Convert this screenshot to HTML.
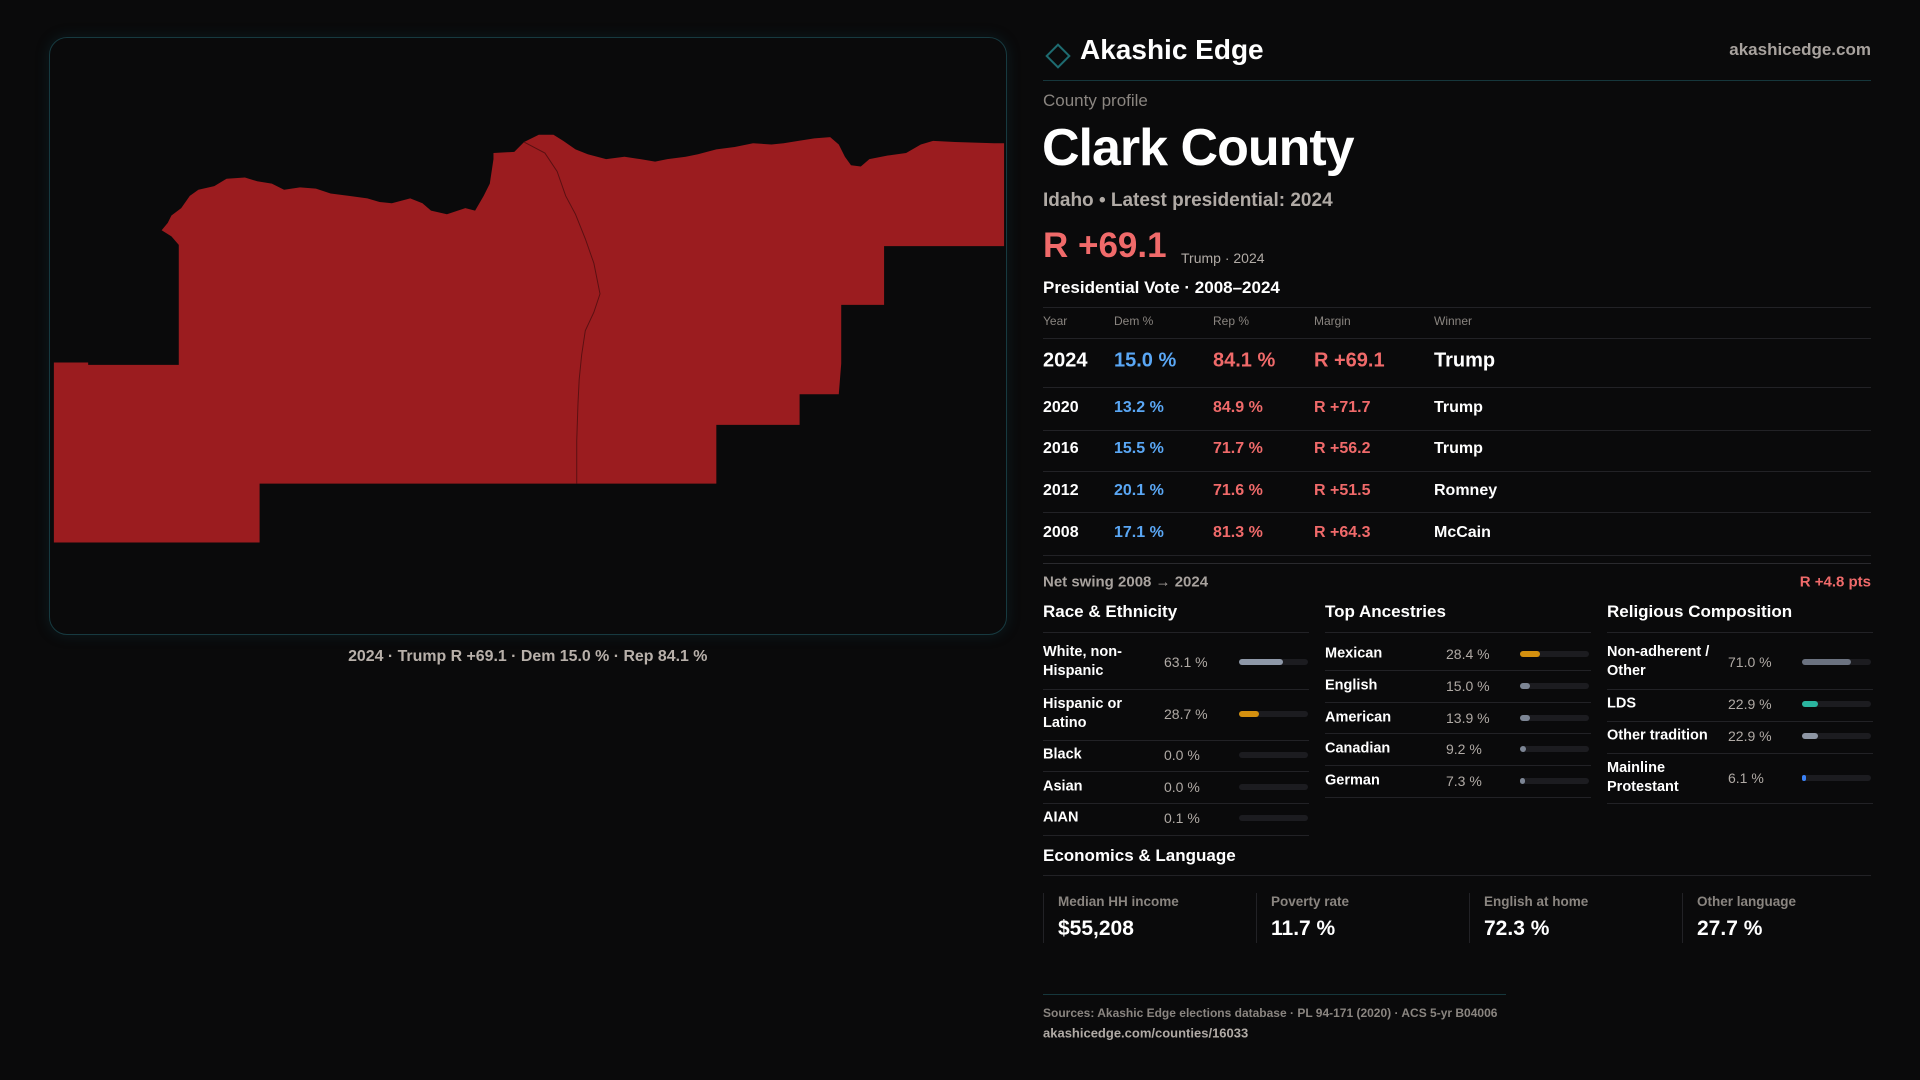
<!DOCTYPE html>
<html><head><meta charset="utf-8"><title>Clark County profile</title>
<style>
html,body{margin:0;padding:0;background:#0a0a0b;width:1920px;height:1080px;overflow:hidden;font-family:"Liberation Sans",sans-serif;}
.t{position:absolute;white-space:nowrap;transform:translateY(-50%);line-height:1.15;}
.hl{position:absolute;height:1px;background:#222226;}
</style></head>
<body>
<div style="position:absolute;left:49px;top:37px;width:956px;height:596px;border:1px solid #173a40;border-radius:18px;box-shadow:0 0 14px rgba(20,80,90,0.25);"></div>
<svg style="position:absolute;left:0;top:0" width="1920" height="1080" viewBox="0 0 1568 882">
<polygon fill="#9b1c1f" points="44,296 72,296 72,298 146,298 146,200 140,193 132,188 137,182 140,176 148,170 155,160 162,155 175,152 185,146 200,145 210,148 222,150 232,155 245,153 258,154 270,158 285,160 300,162 310,165 320,166 335,162 345,166 352,172 365,175 380,170 388,172 395,160 400,150 403,130 403,125 420,124 428,116 440,110 452,110 460,115 470,122 480,126 495,130 510,128 523,130 535,132 545,130 560,128 570,126 585,122 600,120 615,117 630,118 640,117 652,115 665,113 678,112 685,118 690,128 695,135 703,136 710,130 725,127 740,125 752,118 762,115 780,116 812,117 820,117 820,201 722,201 722,249 687,249 687,297 685,322 653,322 653,347 585,347 585,395 212,395 212,443 44,443"/>
<polyline fill="none" stroke="#5a1012" stroke-width="0.8" points="428,116 445,125 455,140 462,160 470,175 478,195 485,215 490,240 485,255 478,270 475,290 473,310 472,330 471,360 471,395"/>
<text x="431" y="540" text-anchor="middle" fill="#b8b0aa" font-size="13" font-weight="bold" font-family="Liberation Sans, sans-serif">2024 · Trump R +69.1 · Dem 15.0 % · Rep 84.1 %</text>
</svg>
<div id="root"></div>
<script>
const years=['2024','2020','2016','2012','2008'];
const demPct=[15.0,13.2,15.5,20.1,17.1];
const repPct=[84.1,84.9,71.7,71.6,81.3];
const margins=[69.1,71.7,56.2,51.5,64.3];
const winners=['Trump','Trump','Trump','Romney','McCain'];
const netSwing=4.8;
const raceLabels=['White, non-<br>Hispanic','Hispanic or<br>Latino','Black','Asian','AIAN'];
const raceValues=[63.1,28.7,0.0,0.0,0.1];
const ancLabels=['Mexican','English','American','Canadian','German'];
const ancValues=[28.4,15.0,13.9,9.2,7.3];
const relLabels=['Non-adherent /<br>Other','LDS','Other tradition','Mainline<br>Protestant'];
const relValues=[71.0,22.9,22.9,6.1];
const econLabels=['Median HH income','Poverty rate','English at home','Other language'];
const econValues=['$55,208','11.7 %','72.3 %','27.7 %'];

const root=document.getElementById('root');
function T(name,x,y,size,color,html,weight,extra){
  const el=document.createElement('div');
  el.className='t';
  
  
  el.style.cssText=`left:${x}px;top:${y}px;font-size:${size}px;color:${color};font-weight:${weight||'normal'};`+(extra||'');
  el.innerHTML=html;root.appendChild(el);return el;
}
function L(name,x,y,w,color){
  const el=document.createElement('div');
  el.className='hl';
  
  
  el.style.cssText=`left:${x}px;top:${y}px;width:${w}px;`+(color?`background:${color};`:'');
  root.appendChild(el);return el;
}
function bar(name,x,y,w,v,color){
  const tr=document.createElement('div');
  
  
  tr.style.cssText=`position:absolute;left:${x}px;top:${y-3}px;width:${w}px;height:6px;border-radius:3px;background:#1c1c20;`;
  const f=document.createElement('div');
  
  
  const fw=v<=0.2?0:Math.max(4,w*v/100);
  f.style.cssText=`width:${fw}px;height:6px;border-radius:3px;background:${color};`;
  tr.appendChild(f);root.appendChild(tr);
}
const dia=document.createElement('div');


dia.style.cssText='position:absolute;left:1049px;top:47px;width:14px;height:14px;border:2px solid #1e6b70;transform:rotate(45deg);';
root.appendChild(dia);
T('brand-name',1080,50,28,'#ffffff','Akashic Edge','bold');
const site=T('site-url',1871,50,17,'#a8a29e','akashicedge.com','bold');site.style.transform='translate(-100%,-50%)';
L('header-rule',1043,80,828,'#16373c');
T('eyebrow',1043,101,17,'#8a8580','County profile');
T('county-title',1042,149,52,'#ffffff','Clark County','bold','letter-spacing:-1px;');
T('subtitle',1043,201,19,'#b0aaa5','Idaho • Latest presidential: 2024','bold');
T('headline-margin',1043,246,35,'#f06a6a','R +69.1','bold');
T('headline-note',1181,258,14,'#b0aaa5','Trump · 2024');
T('vote-table-title',1043,288,17,'#ffffff','Presidential Vote · 2008–2024','bold');
L('table-top-rule',1043,307,828);
const colX=[1043,1114,1213,1314,1434];
['Year','Dem %','Rep %','Margin','Winner'].forEach((h,i)=>T('col-header',colX[i],322,12,'#8a8580',h));
L('table-head-rule',1043,338,828);
const rowY=[361,408,449,491,533];
const ruleY=[387,430,471,512,555];
years.forEach((yr,i)=>{
  const big=i===0;const s=big?20:16;const w='bold';
  T('year-cell',colX[0],rowY[i],s,'#ffffff',yr,w);
  T('dem-cell',colX[1],rowY[i],s,'#5aa7f5',demPct[i].toFixed(1)+' %',w);
  T('rep-cell',colX[2],rowY[i],s,'#f06a6a',repPct[i].toFixed(1)+' %',w);
  T('margin-cell',colX[3],rowY[i],s,'#f06a6a','R +'+margins[i].toFixed(1),w);
  T('winner-cell',colX[4],rowY[i],s,'#ffffff',winners[i],w);
  L('row-rule',1043,ruleY[i],828);
});
L('table-bottom-rule',1043,563,828,'#2a2a2e');
T('net-swing-label',1043,582,15,'#a8a29e','Net swing 2008 → 2024','bold');
const sw=T('net-swing-value',1871,582,15,'#f06a6a','R +'+netSwing.toFixed(1)+' pts','bold');sw.style.transform='translate(-100%,-50%)';
const cx=[1043,1325,1607],cw=266;
['Race &amp; Ethnicity','Top Ancestries','Religious Composition'].forEach((h,i)=>{T('section-heading',cx[i],612,17,'#ffffff',h,'bold');L('section-rule',cx[i],632,cw);});
const raceY=[662,714,755,787,818],raceR=[689,740,771,803,835];
const raceC=['#8e98a8','#d4900f','#7c8594','#7c8594','#7c8594'];
raceLabels.forEach((l,i)=>{T('race-label',cx[0],raceY[i],14.5,'#ffffff',l,'bold','line-height:1.3;');T('race-value',1164,raceY[i],14,'#b0aaa5',raceValues[i].toFixed(1)+' %');bar('race-bar',1239,raceY[i],69,raceValues[i],raceC[i]);L('race-rule',cx[0],raceR[i],cw);});
const ancY=[654,686,718,749,781],ancR=[670,702,733,765,797];
const ancC=['#d4900f','#7c8594','#7c8594','#7c8594','#7c8594'];
ancLabels.forEach((l,i)=>{T('ancestry-label',cx[1],ancY[i],14.5,'#ffffff',l,'bold');T('ancestry-value',1446,ancY[i],14,'#b0aaa5',ancValues[i].toFixed(1)+' %');bar('ancestry-bar',1520,ancY[i],69,ancValues[i],ancC[i]);L('ancestry-rule',cx[1],ancR[i],cw);});
const relY=[662,704,736,778],relR=[689,721,753,803];
const relC=['#6b7280','#2bb5a0','#8e96a4','#3b82f6'];
relLabels.forEach((l,i)=>{T('religion-label',cx[2],relY[i],14.5,'#ffffff',l,'bold','line-height:1.3;');T('religion-value',1728,relY[i],14,'#b0aaa5',relValues[i].toFixed(1)+' %');bar('religion-bar',1802,relY[i],69,relValues[i],relC[i]);L('religion-rule',cx[2],relR[i],cw);});
T('econ-heading',1043,856,17,'#ffffff','Economics &amp; Language','bold');
L('econ-rule',1043,875,828);
const ex=[1043,1256,1469,1682];
econLabels.forEach((l,i)=>{
  const b=document.createElement('div');
  
  
  b.style.cssText=`position:absolute;left:${ex[i]}px;top:893px;width:1px;height:50px;background:#222226;`;
  root.appendChild(b);
  T('stat-label',ex[i]+15,902,13.5,'#8a8580',l,'bold');
  T('stat-value',ex[i]+15,929,21,'#ffffff',econValues[i],'bold');
});
L('footer-rule',1043,994,463,'#16373c');
T('sources',1043,1014,12,'#8a8580','Sources: Akashic Edge elections database · PL 94-171 (2020) · ACS 5-yr B04006','bold');
T('footer-url',1043,1034,13,'#b0aaa5','akashicedge.com/counties/16033','bold');
</script>
</body></html>
